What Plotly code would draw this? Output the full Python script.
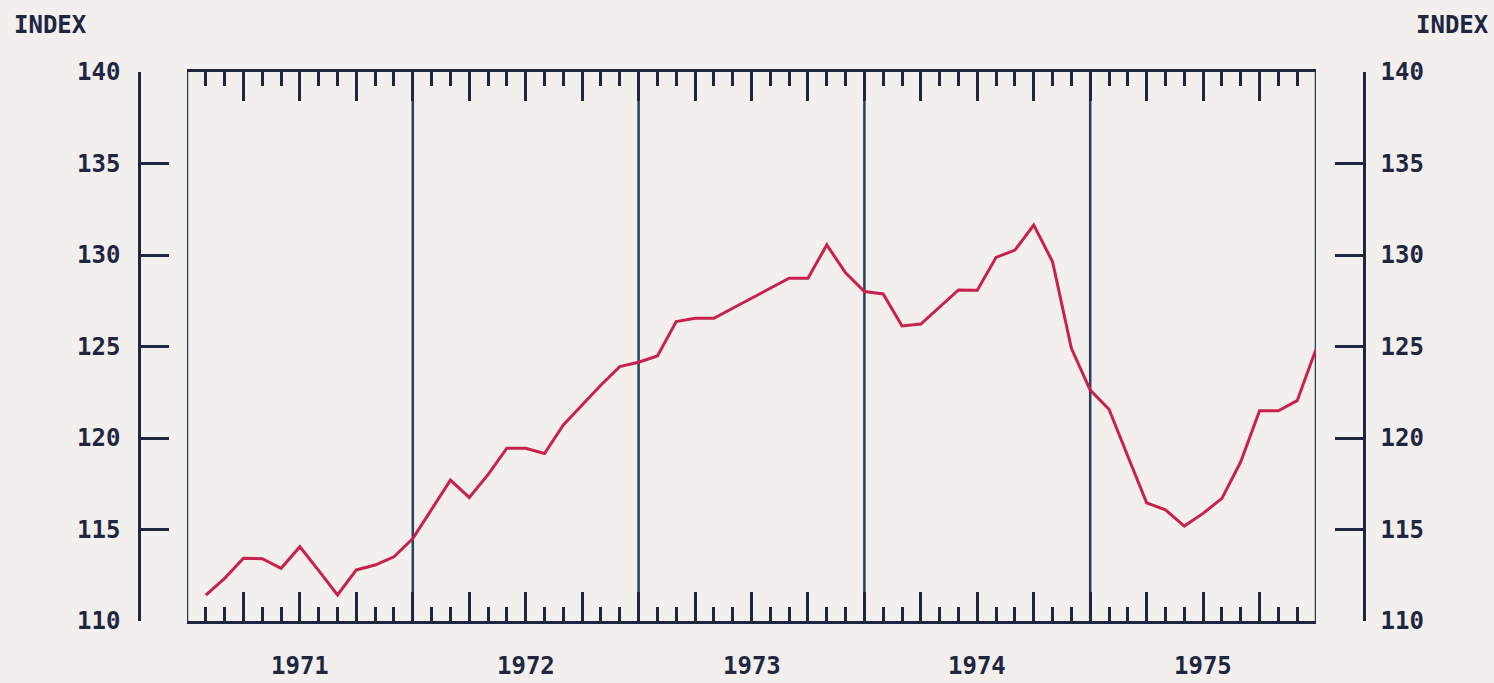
import plotly.graph_objects as go

years = [1971, 1972, 1973, 1974, 1975]
months_per_year = 12
index_values = [
    111.42, 112.33, 113.43, 113.40, 112.88, 114.06, 112.75, 111.42, 112.79, 113.06, 113.51, 114.50,
    116.10, 117.70, 116.75, 118.00, 119.44, 119.44, 119.15, 120.71, 121.80, 122.90, 123.90, 124.14,
    124.48, 126.36, 126.54, 126.54, 127.09, 127.63, 128.18, 128.73, 128.73, 130.55, 129.03, 128.00,
    127.87, 126.12, 126.23, 127.17, 128.09, 128.07, 129.87, 130.27, 131.64, 129.63, 124.90, 122.62,
    121.57, 119.00, 116.46, 116.07, 115.19, 115.88, 116.70, 118.70, 121.49, 121.49, 122.04, 124.85,
]
y_ticks = [110, 115, 120, 125, 130, 135, 140]
axis_title = "INDEX"

month_pos = list(range(1, len(index_values) + 1))
n_months = len(years) * months_per_year

INK = "#1d2742"
YEARLINE = "#22425e"
RED = "#c8224c"
BG = "#f3efec"
FONT = dict(family="DejaVu Sans Mono", size=24, color=INK, weight="bold")

W, H = 1494, 683
L, R, T, B = 139, 130, 72, 62
pw = W - L - R
x_dom = [(187 - L) / pw, (1316 - L) / pw]

fig = go.Figure()
fig.add_trace(go.Scatter(
    x=month_pos, y=index_values, mode="lines",
    line=dict(color=RED, width=3), xaxis="x", yaxis="y", showlegend=False,
))

# year separator / frame side lines
for i in range(len(years) + 1):
    xb = i * months_per_year
    fig.add_shape(type="line", xref="x", yref="paper", x0=xb, x1=xb, y0=0, y1=1,
                  line=dict(color=YEARLINE, width=2.5), layer="below")

# year labels
for i, yr in enumerate(years):
    fig.add_annotation(x=i * months_per_year + months_per_year / 2, y=0, xref="x", yref="paper",
                       text=str(yr), showarrow=False, yanchor="middle", yshift=-45,
                       font=FONT)

fig.add_annotation(x=(12 - L) / pw, y=(621 - 25) / (H - T - B), xref="paper", yref="paper",
                   text=axis_title, showarrow=False, xanchor="left", yanchor="middle", font=FONT)
fig.add_annotation(x=(1491 - L) / pw, y=(621 - 25) / (H - T - B), xref="paper", yref="paper",
                   text=axis_title, showarrow=False, xanchor="right", yanchor="middle", font=FONT)

yax_common = dict(
    range=[y_ticks[0], y_ticks[-1]], tickvals=y_ticks, ticks="inside", ticklen=28,
    tickwidth=2.5, tickcolor=INK, showline=True, linecolor=INK, linewidth=2.5,
    showgrid=False, zeroline=False, tickfont=FONT, anchor="free", fixedrange=True,
)

fig.update_layout(
    width=W, height=H, autosize=False,
    margin=dict(l=L, r=R, t=T, b=B, pad=0),
    paper_bgcolor=BG, plot_bgcolor=BG,
    xaxis=dict(
        domain=x_dom, range=[0, n_months], tick0=0, dtick=3, ticks="inside", ticklen=29,
        tickwidth=2.5, tickcolor=INK, showticklabels=False, showline=True, linecolor=INK,
        linewidth=2.5, mirror="ticks", showgrid=False, zeroline=False,
        minor=dict(dtick=1, tick0=0, ticks="inside", ticklen=14, tickwidth=2.5, tickcolor=INK),
    ),
    yaxis=dict(position=0, side="left", ticklabelstandoff=13, **yax_common),
    yaxis2=dict(position=1, side="right", overlaying="y", ticklabelstandoff=10, **yax_common),
)
fig.add_trace(go.Scatter(x=[None], y=[None], xaxis="x", yaxis="y2", showlegend=False, hoverinfo="skip"))

fig.write_html("out.html", config={"displayModeBar": False}, post_script=(
    "document.body.style.margin='0px';document.body.style.padding='0px';"
    "document.body.style.background='" + BG + "';"
))
